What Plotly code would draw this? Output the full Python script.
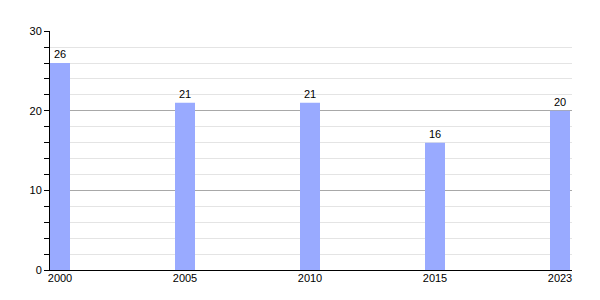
import plotly.graph_objects as go

years = ["2000", "2005", "2010", "2015", "2023"]
values = [26, 21, 21, 16, 20]

fig = go.Figure(go.Bar(
    x=years, y=values, width=0.16,
    marker=dict(color="#99aaff", line=dict(width=0)),
    text=[str(v) for v in values], textposition="outside",
    textfont=dict(family="Liberation Sans, Arial", size=11, color="black"),
    cliponaxis=False,
))

fig.update_layout(
    width=600, height=300,
    margin=dict(l=50, r=28, t=31, b=30),
    paper_bgcolor="white", plot_bgcolor="white",
    font=dict(family="Liberation Sans, Arial", size=11, color="black"),
    showlegend=False,
    xaxis=dict(type="category", range=[-0.08, 4.096], showline=True, linecolor="black",
               linewidth=1, ticks="", showgrid=False, ticklabelstandoff=-2,
               tickfont=dict(size=11)),
    yaxis=dict(range=[0, 30.03], tick0=0, dtick=10, showline=True, linecolor="black", linewidth=1,
               ticks="outside", ticklen=5, tickcolor="black", gridcolor="#a8a8a8",
               showgrid=True, zeroline=False, tickfont=dict(size=11),
               minor=dict(dtick=2, ticks="outside", ticklen=5, tickcolor="black",
                          showgrid=True, gridcolor="#e4e4e4")),
)

fig.write_html("out.html")
